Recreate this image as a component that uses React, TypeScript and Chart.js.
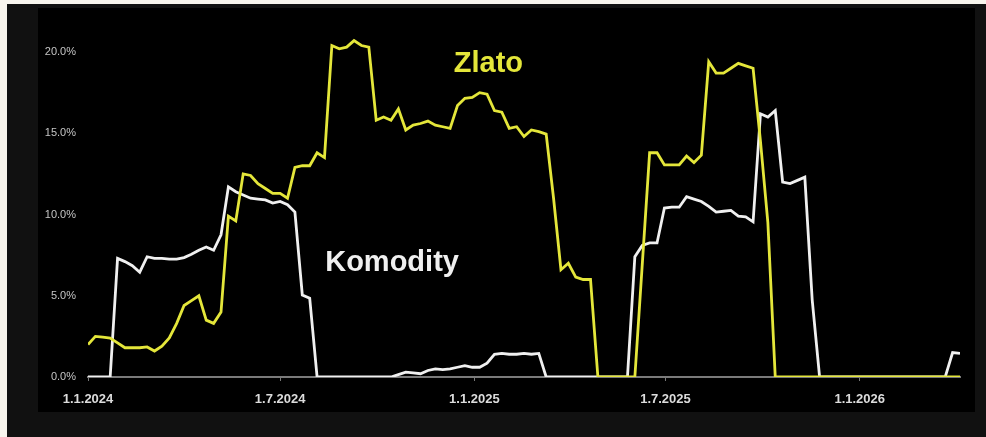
import React, { useEffect, useRef } from 'react';
import { Chart, registerables } from 'chart.js';

Chart.register(...registerables);

// ---- data (weekly observations starting 1.1.2024) ----
const startDate = '2024-01-01';
const stepDays = 7;

const xTickDates = ['2024-01-01', '2024-07-01', '2025-01-01', '2025-07-01', '2026-01-01'];
const xTickLabels = ['1.1.2024', '1.7.2024', '1.1.2025', '1.7.2025', '1.1.2026'];
const yTickValues = [0, 5, 10, 15, 20];

// Zlato (gold), % weight
const zlato = [
  2.0, 2.5, 2.45, 2.4, 2.1, 1.8, 1.8, 1.8, 1.85, 1.6,
  1.9, 2.4, 3.3, 4.4, 4.7, 5.0, 3.5, 3.3, 4.0, 9.9,
  9.6, 12.5, 12.4, 11.9, 11.6, 11.3, 11.3, 11.0, 12.9, 13.0,
  13.0, 13.8, 13.5, 20.4, 20.2, 20.3, 20.7, 20.4, 20.3, 15.8,
  16.0, 15.8, 16.5, 15.2, 15.5, 15.6, 15.75, 15.5, 15.4, 15.3,
  16.7, 17.15, 17.2, 17.5, 17.4, 16.4, 16.3, 15.3, 15.4, 14.8,
  15.2, 15.1, 14.95, 11.0, 6.6, 7.0, 6.15, 6.0, 6.0, 0,
  0, 0, 0, 0, 0, 6.9, 13.8, 13.8, 13.05, 13.05,
  13.05, 13.6, 13.2, 13.65, 19.4, 18.7, 18.7, 19.0, 19.3, 19.15,
  19.0, 14.5, 9.5, 0, 0, 0, 0, 0, 0, 0,
  0, 0, 0, 0, 0, 0, 0, 0, 0, 0,
  0, 0, 0, 0, 0, 0, 0, 0, 0,
];

// Komodity (commodities), % weight
const komodity = [
  0, 0, 0, 0, 7.3, 7.1, 6.85, 6.45, 7.4, 7.3,
  7.3, 7.25, 7.25, 7.35, 7.55, 7.8, 8.0, 7.8, 8.75, 11.7,
  11.4, 11.2, 11.0, 10.95, 10.9, 10.7, 10.8, 10.6, 10.15, 5.05,
  4.85, 0, 0, 0, 0, 0, 0, 0, 0, 0,
  0, 0, 0.15, 0.3, 0.25, 0.2, 0.4, 0.5, 0.45, 0.5,
  0.6, 0.7, 0.6, 0.6, 0.85, 1.4, 1.45, 1.4, 1.4, 1.45,
  1.4, 1.45, 0, 0, 0, 0, 0, 0, 0, 0,
  0, 0, 0, 0, 7.4, 8.1, 8.25, 8.25, 10.4, 10.45,
  10.45, 11.1, 10.95, 10.8, 10.5, 10.15, 10.2, 10.25, 9.9, 9.85,
  9.55, 16.2, 16.0, 16.4, 12.0, 11.9, 12.1, 12.3, 4.75, 0,
  0, 0, 0, 0, 0, 0, 0, 0, 0, 0,
  0, 0, 0, 0, 0, 0, 0, 1.5, 1.45,
];

const YELLOW = '#e4e63a';
const WHITE = '#f0f0f0';

// in-chart series names, anchored in data units (week index, % value of baseline)
const seriesNames = ['Zlato', 'Komodity'];
const seriesNameColors = [YELLOW, WHITE];
const seriesNameWeeks = [49.5, 32.1];
const seriesNameValues = [18.8, 6.5];

const FONT = '"Liberation Sans", Arial, sans-serif';

export default function App() {
  const ref = useRef<HTMLCanvasElement>(null);

  useEffect(() => {
    if (!ref.current) return;
    const dayMs = 86400000;
    const t0 = Date.parse(startDate);
    const toDay = (s: string) => Math.round((Date.parse(s) - t0) / dayMs);
    const tickDays = xTickDates.map(toDay);
    const pts = (arr: number[]) => arr.map((v, i) => ({ x: i * stepDays, y: v }));
    const lastDay = (zlato.length - 1) * stepDays;

    const namePlugin = {
      id: 'seriesNames',
      afterDatasetsDraw(chart: any) {
        const { ctx, scales } = chart;
        ctx.save();
        ctx.font = `bold 29px ${FONT}`;
        ctx.textAlign = 'left';
        ctx.textBaseline = 'alphabetic';
        seriesNames.forEach((t, i) => {
          ctx.fillStyle = seriesNameColors[i];
          ctx.fillText(
            t,
            scales.x.getPixelForValue(seriesNameWeeks[i] * stepDays),
            scales.y.getPixelForValue(seriesNameValues[i])
          );
        });
        ctx.restore();
      },
    };

    const chart = new Chart(ref.current, {
      type: 'line',
      data: {
        datasets: [
          {
            label: 'Zlato',
            data: pts(zlato),
            borderColor: YELLOW,
            borderWidth: 2.8,
            pointRadius: 0,
            tension: 0,
            fill: false,
          },
          {
            label: 'Komodity',
            data: pts(komodity),
            borderColor: WHITE,
            borderWidth: 2.8,
            pointRadius: 0,
            tension: 0,
            fill: false,
          },
        ],
      },
      options: {
        responsive: false,
        animation: false,
        devicePixelRatio: 1,
        layout: { padding: { left: 0, right: 15, top: 27.75, bottom: 0 } },
        plugins: { legend: { display: false }, tooltip: { enabled: false } },
        scales: {
          x: {
            type: 'linear',
            min: 0,
            max: lastDay,
            afterBuildTicks: (s: any) => {
              s.ticks = tickDays.map((v) => ({ value: v }));
            },
            afterFit: (s: any) => {
              s.height = 35;
            },
            grid: { display: true, drawOnChartArea: false, drawTicks: true, tickLength: 4, color: '#777' },
            border: { display: true, color: '#7a7a7a', width: 2 },
            ticks: {
              color: '#dcdcdc',
              font: { family: FONT, size: 13, weight: 'bold' },
              padding: 11,
              maxRotation: 0,
              autoSkip: false,
              callback: (_v: any, i: number) => xTickLabels[i],
            },
          },
          y: {
            min: 0,
            max: 21,
            afterBuildTicks: (s: any) => {
              s.ticks = yTickValues.map((v) => ({ value: v }));
            },
            afterFit: (s: any) => {
              s.width = 50;
            },
            grid: { display: false, drawTicks: false },
            border: { display: false },
            ticks: {
              color: '#c4c4c4',
              font: { family: FONT, size: 11 },
              padding: 12,
              callback: (v: any) => Number(v).toFixed(1) + '%',
            },
          },
        },
      },
      plugins: [namePlugin],
    } as any);

    return () => chart.destroy();
  }, []);

  return (
    <div
      style={{
        position: 'fixed',
        left: 0,
        top: 0,
        width: 986,
        height: 437,
        background: '#f8f5ee',
        overflow: 'hidden',
      }}
    >
      <div style={{ position: 'absolute', left: 7, top: 4, width: 979, height: 433, background: '#111111' }} />
      <div style={{ position: 'absolute', left: 38, top: 8, width: 937, height: 404, background: '#000000' }}>
        <canvas ref={ref} width={937} height={404} style={{ display: 'block', width: 937, height: 404 }} />
      </div>
    </div>
  );
}
